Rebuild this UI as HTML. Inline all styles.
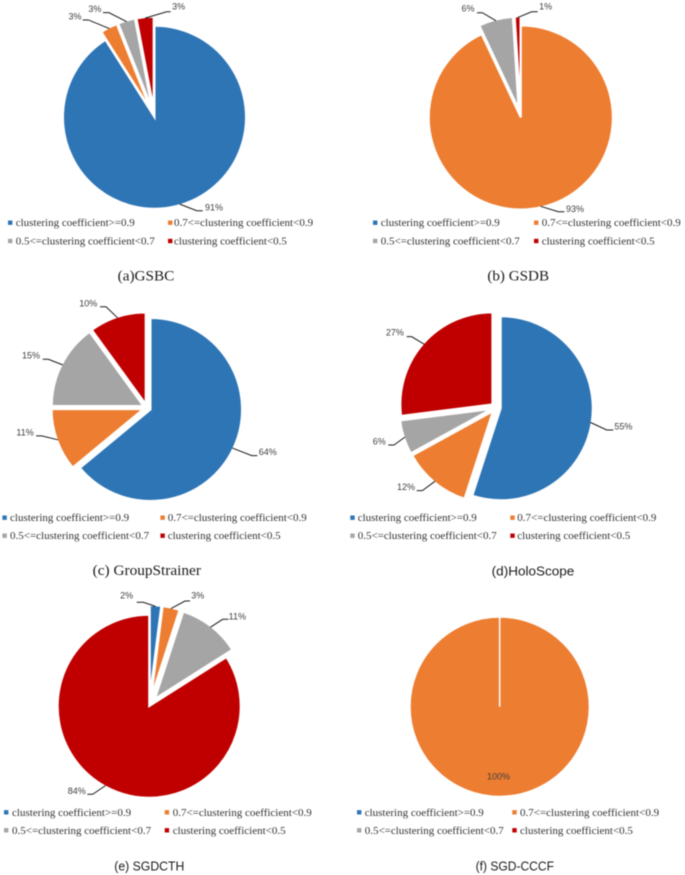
<!DOCTYPE html>
<html lang="en">
<head>
<meta charset="utf-8">
<title>Clustering coefficient pie charts</title>
<style>
html,body{margin:0;padding:0;background:#fff;width:685px;height:875px;overflow:hidden}
svg{display:block;filter:blur(0.45px)}
.legend-text{font-family:"Liberation Serif",serif;font-size:11px;fill:#333}
.data-label{font-family:"Liberation Sans",sans-serif;font-size:9px;fill:#404040;text-anchor:middle;dominant-baseline:central}
.caption-serif{font-family:"Liberation Serif",serif;font-size:15px;fill:#1a1a1a;text-anchor:middle;dominant-baseline:central}
.caption-sans{font-family:"Liberation Sans",sans-serif;font-size:13px;fill:#1a1a1a;text-anchor:middle;dominant-baseline:central}
</style>
</head>
<body>
<svg id="figure" xmlns="http://www.w3.org/2000/svg" width="685" height="875" viewBox="0 0 685 875"></svg>
<script>
// ---- data ----
const categories = ['clustering coefficient>=0.9', '0.7<=clustering coefficient<0.9', '0.5<=clustering coefficient<0.7', 'clustering coefficient<0.5'];
const sharesGSBC = [91, 3, 3, 3];
const sharesGSDB = [0, 93, 6, 1];
const sharesGroupStrainer = [64, 11, 15, 10];
const sharesHoloScope = [55, 12, 6, 27];
const sharesSGDCTH = [2, 3, 11, 84];
const sharesSGDCCCF = [0, 100, 0, 0];
const captions = ['(a)GSBC', '(b) GSDB', '(c) GroupStrainer', '(d)HoloScope', '(e) SGDCTH', '(f) SGD-CCCF'];

// ---- styling and layout (not data) ----
const colors = ['#2E75B6', '#ED7D31', '#A5A5A5', '#C00000'];
const panels = [
  {key:'gsbc', shares:sharesGSBC, cx:154.5, cy:117.2, r:90.5, sw:2, explode:[0,9,9,9],
   leaders:[[17,6.6,6,34.2,3.6],[-21,-8.6,-5.6,-34.3,-11.9],[-17.8,-9,-6,-31.8,-12.7],[21.5,-6.4,4,33.5,-11.4]],
   legend:{sq:[8,168], tx:[15.7,174], y:[222.7,241]}, cap:{x:146,y:276.7,w:56.7,cls:'caption-serif'}},
  {key:'gsdb', shares:sharesGSDB, cx:520.8, cy:117.5, r:91, sw:2, explode:[9,0,9,9],
   leaders:[null,[17.7,5.4,6,34.4,2.7],[-13.6,-7.9,-5.3,-27.9,-11.9],[14,-5.8,6,28,-10.8]],
   legend:{sq:[373,534], tx:[380.7,541.7], y:[222.7,241]}, cap:{x:518.2,y:276.7,w:61.7,cls:'caption-serif'}},
  {key:'groupstrainer', shares:sharesGroupStrainer, cx:146.9, cy:407.8, r:90.5, sw:2, explode:[4,4,4,4],
   leaders:[[19.3,7.6,5.6,35.3,4.2],[-16.2,-3.9,-5.7,-32.9,-7.2],[-14.4,-5.6,-5.6,-31.7,-9.2],[-11.7,-11.2,-6,-29.4,-14.6]],
   legend:{sq:[2.4,160.4], tx:[10,167.7], y:[517.7,535.7]}, cap:{x:146.8,y:571,w:108.3,cls:'caption-serif'}},
  {key:'holoscope', shares:sharesHoloScope, cx:496, cy:407.5, r:91, sw:2, explode:[4.8,4.8,4.8,4.8],
   leaders:[[16.1,7.5,6.6,32.7,4.2],[-12.6,9.3,-5.6,-28.9,5.9],[-10.9,7.9,-5.7,-25.6,4.6],[-12.5,-7.5,-5,-29.2,-11.5]],
   legend:{sq:[350.3,510.3], tx:[357.7,517.3], y:[517.7,535.7]}, cap:{x:533,y:571,w:82.6,cls:'caption-sans'}},
  {key:'sgdcth', shares:sharesSGDCTH, cx:149.2, cy:706.2, r:90.5, sw:2, explode:[9.5,9.5,9.5,0],
   leaders:[[-12.2,-4.1,-6.6,-28.8,-10.7],[14,-7.6,5,26.7,-12.9],[12.2,-7.9,5.6,26.8,-10.5],[-12.9,8.8,-5.4,-28.9,5.5]],
   legend:{sq:[4,164.7], tx:[12,172.7], y:[812.3,830.3]}, cap:{x:149.3,y:866,w:70,cls:'caption-sans'}},
  {key:'sgd-cccf', shares:sharesSGDCCCF, cx:499.7, cy:706.7, r:89, sw:1.5, explode:[0,0,0,0],
   leaders:[null,[0,0,0,-1.2,-19],null,null],
   legend:{sq:[357,512.3], tx:[364.7,520], y:[812.3,830.3]}, cap:{x:514.8,y:866,w:78.3,cls:'caption-sans'}}
];

// ---- drawing ----
const NS = 'http://www.w3.org/2000/svg';
const svg = document.getElementById('figure');

function angleOf(frac){ return frac * 2 * Math.PI; }
function pointAt(cx, cy, r, a){ return [cx + r * Math.sin(a), cy - r * Math.cos(a)]; }
function slicePath(cx, cy, r, a0, a1){
  const s = pointAt(cx, cy, r, a0);
  if (a1 - a0 >= 2 * Math.PI - 1e-6) {
    const m = pointAt(cx, cy, r, a0 + Math.PI);
    return 'M' + cx + ' ' + cy + 'L' + s[0] + ' ' + s[1] +
      'A' + r + ' ' + r + ' 0 1 1 ' + m[0] + ' ' + m[1] +
      'A' + r + ' ' + r + ' 0 1 1 ' + s[0] + ' ' + s[1] + 'Z';
  }
  const e = pointAt(cx, cy, r, a1);
  const large = (a1 - a0) > Math.PI ? 1 : 0;
  return 'M' + cx + ' ' + cy + 'L' + s[0] + ' ' + s[1] +
    'A' + r + ' ' + r + ' 0 ' + large + ' 1 ' + e[0] + ' ' + e[1] + 'Z';
}

panels.forEach(function(p){
  const g = document.createElementNS(NS, 'g');
  
  
  svg.appendChild(g);

  const total = p.shares.reduce(function(s, v){ return s + v; }, 0);
  let cum = 0;
  p.shares.forEach(function(v, i){
    const a0 = angleOf(cum / total);
    cum += v;
    const a1 = angleOf(cum / total);
    if (v <= 0) return;
    const mid = (a0 + a1) / 2;
    const off = p.explode[i];
    const c = pointAt(p.cx, p.cy, off, mid);

    const path = document.createElementNS(NS, 'path');
    path.setAttribute('d', slicePath(c[0], c[1], p.r + p.sw / 2, a0, a1));
    path.setAttribute('fill', colors[i]);
    path.setAttribute('stroke', '#fff');
    path.setAttribute('stroke-width', p.sw);
    path.setAttribute('stroke-linejoin', 'miter');
    
    
    g.appendChild(path);
  });

  cum = 0;
  p.shares.forEach(function(v, i){
    const a0 = angleOf(cum / total);
    cum += v;
    const a1 = angleOf(cum / total);
    if (v <= 0 || !p.leaders[i]) return;
    const mid = (a0 + a1) / 2;
    const c = pointAt(p.cx, p.cy, p.explode[i], mid);
    const anchor = pointAt(c[0], c[1], p.r, mid);
    const o = p.leaders[i];
    if (o[0] !== 0 || o[1] !== 0) {
      const ex = anchor[0] + o[0], ey = anchor[1] + o[1];
      const line = document.createElementNS(NS, 'polyline');
      line.setAttribute('points', anchor[0] + ',' + anchor[1] + ' ' + ex + ',' + ey + ' ' + (ex + o[2]) + ',' + ey);
      line.setAttribute('fill', 'none');
      line.setAttribute('stroke', '#1a1a1a');
      line.setAttribute('stroke-width', '1');
      
      
      g.appendChild(line);
    }
    const t = document.createElementNS(NS, 'text');
    t.setAttribute('x', anchor[0] + o[3]);
    t.setAttribute('y', anchor[1] + o[4]);
    t.setAttribute('class', 'data-label');
    
    
    t.textContent = v + '%';
    g.appendChild(t);
  });

  categories.forEach(function(name, i){
    const col = i % 2, row = i < 2 ? 0 : 1;
    const y = p.legend.y[row];
    const sq = document.createElementNS(NS, 'rect');
    sq.setAttribute('x', p.legend.sq[col]);
    sq.setAttribute('y', y - 2.2);
    sq.setAttribute('width', 4.4);
    sq.setAttribute('height', 4.4);
    sq.setAttribute('fill', colors[i]);
    
    
    g.appendChild(sq);
    const t = document.createElementNS(NS, 'text');
    t.setAttribute('x', p.legend.tx[col]);
    t.setAttribute('y', y + 3.5);
    t.setAttribute('class', 'legend-text');
    
    
    t.textContent = name;
    g.appendChild(t);
  });
});

panels.forEach(function(p, i){
  const t = document.createElementNS(NS, 'text');
  t.setAttribute('x', p.cap.x);
  t.setAttribute('y', p.cap.y);
  t.setAttribute('class', p.cap.cls);
  t.setAttribute('textLength', p.cap.w);
  t.setAttribute('lengthAdjust', 'spacingAndGlyphs');
  
  
  t.textContent = captions[i];
  svg.appendChild(t);
});
</script>
</body>
</html>
